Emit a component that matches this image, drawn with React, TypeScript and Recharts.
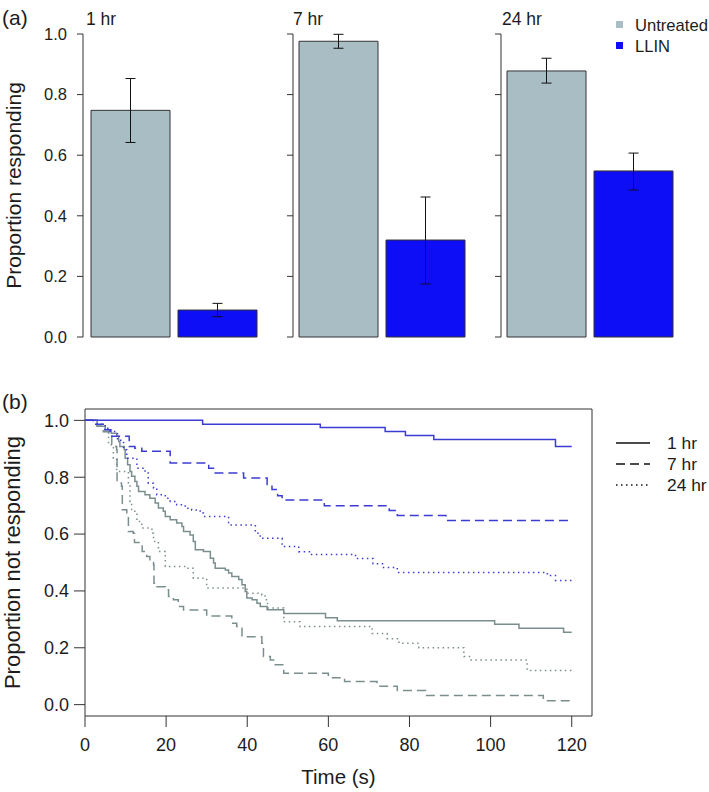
import {
  Bar,
  BarChart,
  Cell,
  ErrorBar,
  Line,
  LineChart,
  ReferenceArea,
  XAxis,
  YAxis,
} from "recharts";

const fontFamily = '"Liberation Sans", Arial, Helvetica, sans-serif';
const inkColor = "#1c1c1c";
const axisColor = "#333";

// panel (a): proportion responding, by time after exposure
const timepoints = ["1 hr", "7 hr", "24 hr"];
const treatments = ["Untreated", "LLIN"];
const treatmentFills = ["#a9bdc5", "#0e0ef6"];
const untreatedMean = [0.748, 0.976, 0.878];
const untreatedLower = [0.642, 0.953, 0.838];
const untreatedUpper = [0.853, 0.999, 0.92];
const llinMean = [0.089, 0.32, 0.548];
const llinLower = [0.067, 0.175, 0.485];
const llinUpper = [0.111, 0.462, 0.607];
const proportionTicks = [0, 0.2, 0.4, 0.6, 0.8, 1];

// panel (b): Kaplan-Meier curves, time (s) vs proportion not responding
const timeTicks = [0, 20, 40, 60, 80, 100, 120];

const llin1hTime = [0, 29, 58, 74, 79, 86, 116, 120];
const llin1hSurv = [1.0, 0.986, 0.975, 0.961, 0.947, 0.933, 0.908, 0.908];

const llin7hTime = [0, 2, 4.9, 6.2, 10.9, 12.3, 14, 21, 30.5, 32.1, 39.1, 44.9, 46.1, 47.5, 48.6, 59, 75, 77, 89, 120];
const llin7hSurv = [1.0, 0.986, 0.967, 0.944, 0.908, 0.902, 0.891, 0.85, 0.832, 0.815, 0.797, 0.774, 0.757, 0.735, 0.72, 0.7, 0.683, 0.665, 0.648, 0.648];

const llin24hTime = [0, 3, 5, 6.2, 8, 9.5, 10.3, 12.8, 14.8, 15.6, 16.9, 17.7, 19.8, 21, 22.6, 24.7, 26.3, 28.4, 29.2, 35.4, 42, 43.2, 48.6, 52.7, 55.6, 66.7, 71, 73.6, 77, 114, 116, 120];
const llin24hSurv = [1.0, 0.986, 0.972, 0.961, 0.93, 0.897, 0.867, 0.832, 0.815, 0.779, 0.762, 0.738, 0.726, 0.715, 0.703, 0.691, 0.685, 0.674, 0.662, 0.632, 0.603, 0.585, 0.556, 0.538, 0.528, 0.514, 0.496, 0.482, 0.465, 0.454, 0.437, 0.437];

const untreated1hTime = [0, 3, 5, 6.5, 7.8, 8.3, 8.6, 9.7, 9.9, 10.5, 11.1, 11.5, 12.3, 12.8, 13.2, 14.8, 16, 17.3, 18.1, 19.3, 19.8, 21, 22.6, 23.9, 24.3, 25.9, 26.7, 27.2, 29.2, 30.9, 31.7, 32.1, 34.6, 35.4, 36.2, 37.9, 38.7, 39.5, 39.9, 41.2, 42.4, 43.2, 44.9, 49, 59.3, 62.2, 101, 107, 118, 120];
const untreated1hSurv = [1.0, 0.979, 0.967, 0.955, 0.944, 0.926, 0.908, 0.897, 0.867, 0.844, 0.82, 0.803, 0.785, 0.768, 0.75, 0.738, 0.726, 0.709, 0.692, 0.68, 0.662, 0.65, 0.639, 0.627, 0.609, 0.597, 0.574, 0.545, 0.539, 0.515, 0.498, 0.48, 0.474, 0.463, 0.451, 0.44, 0.422, 0.398, 0.375, 0.369, 0.357, 0.345, 0.334, 0.321, 0.306, 0.295, 0.283, 0.269, 0.255, 0.255];

const untreated7hTime = [0, 3, 4.5, 5.8, 6.6, 7.8, 7.9, 9, 9.2, 10.3, 10.7, 11.9, 12.2, 14.1, 15.2, 16, 16.9, 17, 17.7, 19.8, 20.6, 21.8, 23, 24.3, 30, 36.2, 37.4, 38.7, 43.6, 44, 45.7, 46.5, 49, 60, 64, 72, 77, 84, 113, 120];
const untreated7hSurv = [1.0, 0.979, 0.96, 0.944, 0.908, 0.897, 0.78, 0.768, 0.686, 0.662, 0.609, 0.603, 0.57, 0.539, 0.521, 0.504, 0.492, 0.427, 0.415, 0.404, 0.38, 0.369, 0.345, 0.333, 0.312, 0.286, 0.275, 0.239, 0.216, 0.169, 0.157, 0.14, 0.11, 0.095, 0.081, 0.065, 0.05, 0.032, 0.014, 0.014];

const untreated24hTime = [0, 3, 4.9, 5.8, 7, 7.8, 10.7, 11.1, 11.5, 12.8, 14, 16.5, 16.9, 18.1, 19.8, 25.1, 26.7, 30, 39.9, 43.6, 44.4, 45, 49, 53, 70.8, 74.5, 77.4, 82.3, 93.4, 95, 109, 120];
const untreated24hSurv = [1.0, 0.98, 0.961, 0.914, 0.867, 0.82, 0.774, 0.715, 0.68, 0.644, 0.621, 0.603, 0.574, 0.539, 0.486, 0.48, 0.445, 0.41, 0.392, 0.386, 0.369, 0.34, 0.292, 0.275, 0.25, 0.232, 0.216, 0.2, 0.169, 0.157, 0.12, 0.12];

const llinLine = "#3c3cd4";
const untreatedLine = "#7b8e8e";
const dashed = "9 5";
const dotted = "1.5 3.5";

// untreated drawn first so the LLIN curves sit on top where they overlap at 1.0
const curves = [
  { name: "Untreated 24 hr", time: untreated24hTime, surv: untreated24hSurv, color: untreatedLine, dash: dotted },
  { name: "Untreated 7 hr", time: untreated7hTime, surv: untreated7hSurv, color: untreatedLine, dash: dashed },
  { name: "Untreated 1 hr", time: untreated1hTime, surv: untreated1hSurv, color: untreatedLine, dash: undefined },
  { name: "LLIN 24 hr", time: llin24hTime, surv: llin24hSurv, color: llinLine, dash: dotted },
  { name: "LLIN 7 hr", time: llin7hTime, surv: llin7hSurv, color: llinLine, dash: dashed },
  { name: "LLIN 1 hr", time: llin1hTime, surv: llin1hSurv, color: llinLine, dash: undefined },
];

const lineLegend = [
  { label: "1 hr", dash: undefined },
  { label: "7 hr", dash: dashed },
  { label: "24 hr", dash: dotted },
];

function panelData(i: number) {
  return [
    {
      group: treatments[0],
      value: untreatedMean[i],
      err: [untreatedMean[i] - untreatedLower[i], untreatedUpper[i] - untreatedMean[i]],
    },
    {
      group: treatments[1],
      value: llinMean[i],
      err: [llinMean[i] - llinLower[i], llinUpper[i] - llinMean[i]],
    },
  ];
}

const fmt1 = (v: number) => v.toFixed(1);
const noLabel = () => "";

function BarPanel({ index, left, axisWidth, padLeft, first }: { index: number; left: number; axisWidth: number; padLeft: number; first: boolean }) {
  const data = panelData(index);
  return (
    <div style={{ position: "absolute", left, top: 0 }}>
      <BarChart
        width={axisWidth + padLeft + 174 + 6}
        height={350}
        data={data}
        margin={{ top: 34, right: 6, bottom: 13, left: 0 }}
      >
        <XAxis dataKey="group" hide padding={{ left: padLeft, right: 0 }} />
        <YAxis
          type="number"
          domain={[0, 1]}
          ticks={proportionTicks}
          tickFormatter={first ? fmt1 : noLabel}
          width={axisWidth}
          stroke={axisColor}
          tickLine={{ stroke: axisColor }}
          tickSize={6}
          tickMargin={10}
          tick={{ fill: inkColor, fontSize: 16.5 }}
          label={
            first
              ? {
                  value: "Proportion responding",
                  angle: -90,
                  position: "insideLeft",
                  offset: 14,
                  fill: inkColor,
                  fontSize: 21,
                  style: { textAnchor: "middle" },
                }
              : undefined
          }
        />
        <Bar dataKey="value" barSize={79} stroke={axisColor} strokeWidth={1} isAnimationActive={false}>
          {data.map((d, i) => (
            <Cell key={d.group} fill={treatmentFills[i]} />
          ))}
          <ErrorBar dataKey="err" direction="y" width={5} stroke="#111" strokeWidth={1} />
        </Bar>
      </BarChart>
    </div>
  );
}

export default function App() {
  return (
    <div
      style={{
        position: "absolute",
        left: 0,
        top: 0,
        width: 709,
        height: 792,
        background: "#fff",
        fontFamily,
        color: inkColor,
      }}
    >
      <BarPanel index={0} left={0} axisWidth={83} padLeft={4} first />
      <BarPanel index={1} left={273} axisWidth={20} padLeft={2} first={false} />
      <BarPanel index={2} left={481} axisWidth={20} padLeft={2} first={false} />

      <div style={{ position: "absolute", left: 0, top: 380 }}>
        <LineChart width={709} height={412} margin={{ top: 29, right: 117, bottom: 4, left: 0 }}>
          <XAxis
            type="number"
            dataKey="t"
            domain={[0, 125]}
            ticks={timeTicks}
            allowDataOverflow
            axisLine={false}
            stroke={axisColor}
            tickSize={11}
            tickMargin={11}
            height={72}
            tick={{ fill: inkColor, fontSize: 18 }}
            label={{ value: "Time (s)", position: "insideBottom", offset: 4, fill: inkColor, fontSize: 20.5 }}
          />
          <YAxis
            type="number"
            domain={[-0.04, 1.04]}
            ticks={proportionTicks}
            tickFormatter={fmt1}
            allowDataOverflow
            axisLine={false}
            stroke={axisColor}
            width={85}
            tickSize={11}
            tickMargin={5}
            tick={{ fill: inkColor, fontSize: 18 }}
            label={{
              value: "Proportion not responding",
              angle: -90,
              position: "insideLeft",
              offset: 12,
              fill: inkColor,
              fontSize: 22,
              style: { textAnchor: "middle" },
            }}
          />
          <ReferenceArea x1={0} x2={125} y1={-0.04} y2={1.04} fill="none" stroke={axisColor} strokeWidth={1} />
          {curves.map((c) => (
            <Line
              key={c.name}
              name={c.name}
              data={c.time.map((t, i) => ({ t, v: c.surv[i] }))}
              dataKey="v"
              type="stepAfter"
              stroke={c.color}
              strokeWidth={1.5}
              strokeDasharray={c.dash}
              dot={false}
              activeDot={false}
              isAnimationActive={false}
            />
          ))}
        </LineChart>
      </div>

      <svg
        width={709}
        height={792}
        style={{ position: "absolute", left: 0, top: 0, pointerEvents: "none" }}
        fontFamily={fontFamily}
        fill={inkColor}
      >
        <text x={2} y={25} fontSize={21}>(a)</text>
        <text x={2} y={409} fontSize={21}>(b)</text>
        {timepoints.map((tp, i) => (
          <text key={tp} x={[86, 293, 502][i]} y={25} fontSize={17.5}>
            {tp}
          </text>
        ))}
        {treatments.map((tr, i) => (
          <g key={tr}>
            <rect x={616} y={21 + i * 21} width={7} height={7} fill={treatmentFills[i]} />
            <text x={635} y={31 + i * 21} fontSize={16.6}>
              {tr}
            </text>
          </g>
        ))}
        {lineLegend.map((l, i) => (
          <g key={l.label}>
            <line x1={616} x2={650} y1={443 + i * 21} y2={443 + i * 21} stroke="#111" strokeWidth={1.3} strokeDasharray={l.dash} />
            <text x={667} y={449 + i * 21} fontSize={17.4}>
              {l.label}
            </text>
          </g>
        ))}
      </svg>
    </div>
  );
}
